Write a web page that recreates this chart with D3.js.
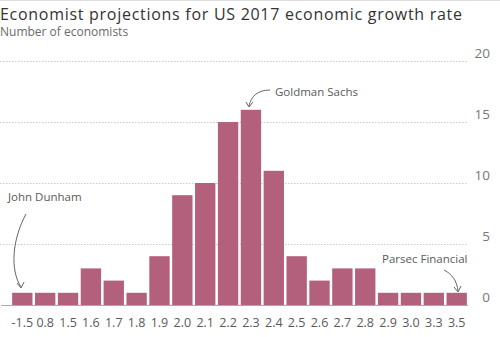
<!DOCTYPE html>
<html><head><meta charset="utf-8">
<script src="https://cdn.jsdelivr.net/npm/d3@7"></script>
<style>
body{margin:0;background:#fff;}
svg{display:block;font-family:"Open Sans",sans-serif;}
</style></head>
<body><svg id="c" width="500" height="337"></svg>
<script>
const categories = ["-1.5","0.8","1.5","1.6","1.7","1.8","1.9","2.0","2.1","2.2","2.3","2.4","2.5","2.6","2.7","2.8","2.9","3.0","3.3","3.5"];
const counts = [1,1,1,3,2,1,4,9,10,15,16,11,4,2,3,3,1,1,1,1];
const yTicks = [0,5,10,15,20];
const title = "Economist projections for US 2017 economic growth rate";
const subtitle = "Number of economists";

const svg = d3.select("#c");
const x = d3.scaleBand().domain(categories).range([11,468]).paddingInner(0.11).paddingOuter(0.05);
const y = d3.scaleLinear().domain([0,20]).range([305,61]);

svg.append("line").attr("x1",0).attr("x2",500).attr("y1",0.5).attr("y2",0.5).attr("stroke","#ddd");

svg.append("text").attr("x",0).attr("y",19.5).attr("font-size",16).attr("textLength",462)
  .attr("lengthAdjust","spacing").attr("fill","#333").text(title);
svg.append("text").attr("x",0).attr("y",36).attr("font-size",12).attr("fill","#6a6a6a").text(subtitle);

// grid
const g = svg.append("g");
g.selectAll("line.grid").data(yTicks.filter(d=>d>0)).join("line")
  .attr("x1",0).attr("x2",468).attr("y1",d=>y(d)+0.5).attr("y2",d=>y(d)+0.5)
  .attr("stroke","#ccc").attr("stroke-dasharray","1.5,1.5");
g.selectAll("text.yl").data(yTicks).join("text")
  .attr("x",490).attr("y",d=>y(d)-3.5).attr("text-anchor","end")
  .attr("font-size",13.5).attr("fill","#777").text(d=>d);

// bars
svg.selectAll("rect.bar").data(categories).join("rect")
  .attr("x",d=>x(d)).attr("width",x.bandwidth())
  .attr("y",(d,i)=>y(counts[i])).attr("height",(d,i)=>y(0)-y(counts[i]))
  .attr("fill","#b3607c");

// baseline
svg.append("line").attr("x1",1).attr("x2",468).attr("y1",y(0)+0.5).attr("y2",y(0)+0.5).attr("stroke","#aaa");

// x labels
svg.selectAll("text.xl").data(categories).join("text")
  .attr("x",d=>x(d)+x.bandwidth()/2).attr("y",327).attr("text-anchor","middle")
  .attr("font-size",12.5).attr("fill","#5a5a5a").text(d=>d);

// annotations
const ann = svg.append("g").attr("font-size",11.5).attr("fill","#5a5a5a");
ann.append("text").attr("x",8).attr("y",201).text("John Dunham");
ann.append("text").attr("x",275).attr("y",96).text("Goldman Sachs");
ann.append("text").attr("x",382).attr("y",263).text("Parsec Financial");

const arr = svg.append("g").attr("fill","none").attr("stroke","#666").attr("stroke-width",1);
arr.append("path").attr("d","M26,214 C12,240 10,270 21,287");
arr.append("path").attr("d","M17,283 L21,288 L24,282");
arr.append("path").attr("d","M270,90 C258,90 251,96 249,106");
arr.append("path").attr("d","M246,102 L249,107 L253,102");
arr.append("path").attr("d","M444,270 C452,274 457,281 458,291");
arr.append("path").attr("d","M454,287 L458,292 L461,286");
</script></body></html>
